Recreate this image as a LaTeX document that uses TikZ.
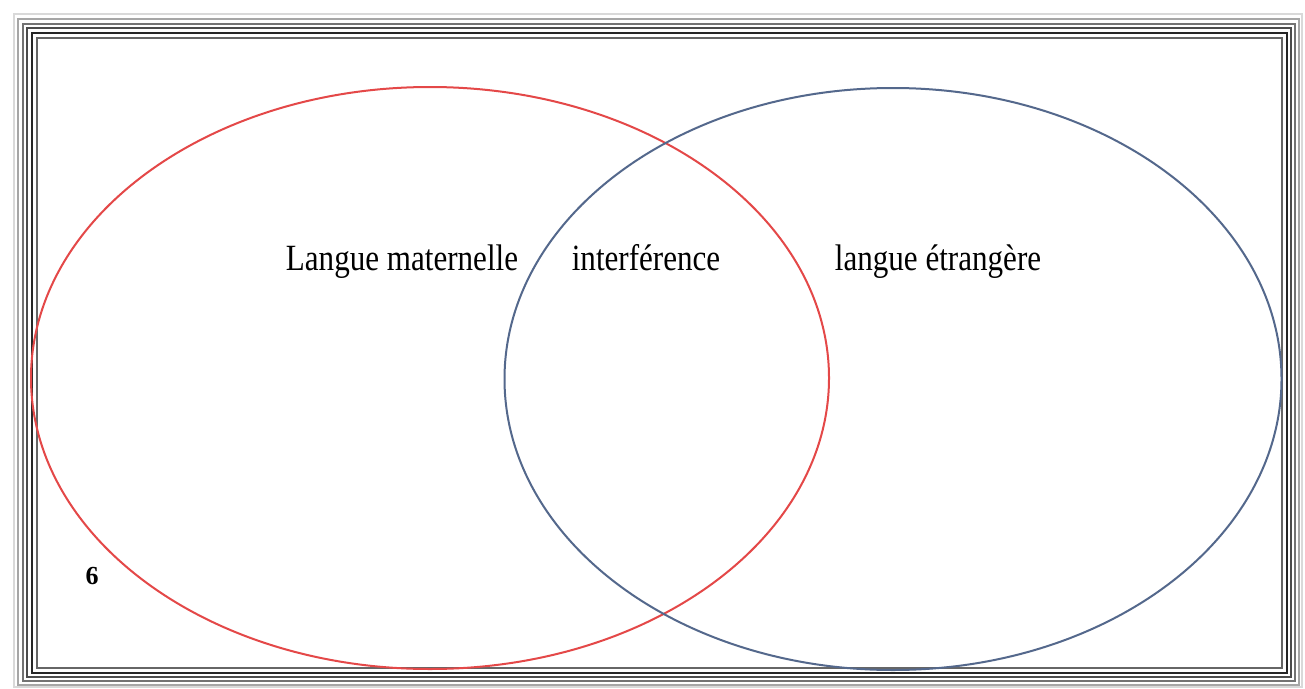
\documentclass[tikz,border=0pt]{standalone}
\usepackage{fontspec}
\setmainfont{Liberation Serif}
\newfontfamily\condserif[FakeStretch=0.84]{Liberation Serif}
\usetikzlibrary{shapes.geometric}
\definecolor{vennred}{RGB}{228,72,72}
\definecolor{vennblue}{RGB}{84,104,140}
\tikzset{
  frameline/.style={line width=1.2pt},
  venn/.style={ellipse, draw, line width=2pt, inner sep=0pt},
  lbl/.style={font=\condserif\fontsize{37}{40}\selectfont, inner sep=0pt, anchor=base},
}
\begin{document}
\begin{tikzpicture}[x=1pt,y=-1pt]
\useasboundingbox (0,0) rectangle (1305,688);
\fill[white] (0,0) rectangle (1305,688);
% frame lines
\draw[frameline, black!15] (14,14) rectangle (1302,687);
\draw[frameline, black!35] (18,19) rectangle (1299,685);
\draw[frameline, black!55] (23,24) rectangle (1295,681);
\draw[frameline, black!70] (27,28) rectangle (1291,677);
\draw[line width=2pt, black!85] (32,33) rectangle (1287,673);
\draw[frameline, black!60] (37,38) rectangle (1282,668);
% ellipses
\node[venn, draw=vennred, minimum width=798pt, minimum height=582pt] (mat) at (430,378) {};
\node[venn, draw=vennblue, minimum width=777pt, minimum height=582pt] (etr) at (893,379) {};
% labels
\node[lbl] (lm) at (402,270) {Langue maternelle};
\node[lbl] (int) at (646,270) {interférence};
\node[lbl] (le) at (938,270) {langue étrangère};
\node[font=\bfseries\fontsize{26}{28}\selectfont, inner sep=0pt] (six) at (92,576) {6};
\end{tikzpicture}
\end{document}
